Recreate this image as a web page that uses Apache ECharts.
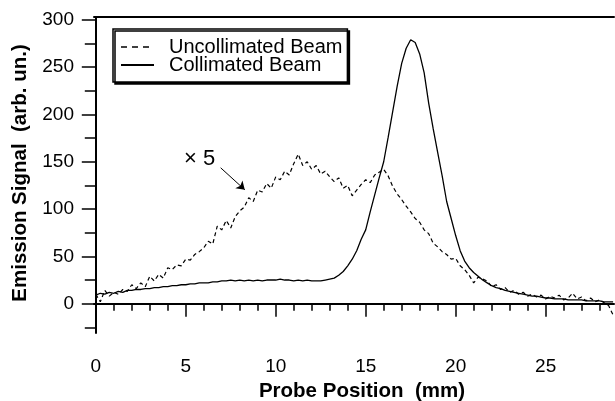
<!DOCTYPE html>
<html>
<head>
<meta charset="utf-8">
<script src="https://cdn.jsdelivr.net/npm/echarts@6/dist/echarts.min.js"></script>
<style>
    html, body { margin: 0; padding: 0; background: #fff; }
    #chart { width: 615px; height: 401px; }
</style>
</head>
<body>
<div id="chart"></div>
<script>
// probe positions (mm)
let positions = [
    0, 0.25, 0.5, 0.75, 1, 1.25, 1.5, 1.75, 2, 2.25, 2.5, 2.75, 3, 3.25, 3.5, 3.75, 4, 4.25, 4.5, 4.75,
    5, 5.25, 5.5, 5.75, 6, 6.25, 6.5, 6.75, 7, 7.25, 7.5, 7.75, 8, 8.25, 8.5, 8.75, 9, 9.25, 9.5, 9.75,
    10, 10.25, 10.5, 10.75, 11, 11.25, 11.5, 11.75, 12, 12.25, 12.5, 12.75, 13, 13.25, 13.5, 13.75, 14, 14.25, 14.5, 14.75,
    15, 15.25, 15.5, 15.75, 16, 16.25, 16.5, 16.75, 17, 17.25, 17.5, 17.75, 18, 18.25, 18.5, 18.75, 19, 19.25, 19.5, 19.75,
    20, 20.25, 20.5, 20.75, 21, 21.25, 21.5, 21.75, 22, 22.25, 22.5, 22.75, 23, 23.25, 23.5, 23.75, 24, 24.25, 24.5, 24.75,
    25, 25.25, 25.5, 25.75, 26, 26.25, 26.5, 26.75, 27, 27.25, 27.5, 27.75, 28, 28.25, 28.5, 28.75
]

// uncollimated beam, already multiplied by 5
let uncollimated = [
    10, 2, 14, 8, 12, 10, 15, 13, 20, 16, 22, 18, 29, 24, 31, 27, 38, 36, 41, 40,
    47, 46, 52, 55, 59, 66, 63, 82, 78, 88, 80, 92, 98, 102, 112, 108, 120, 118, 127, 122,
    134, 131, 140, 136, 148, 158, 146, 150, 142, 146, 137, 140, 134, 129, 133, 122, 125, 114, 120, 126,
    131, 128, 136, 139, 142, 135, 124, 116, 110, 103, 97, 90, 86, 78, 74, 64, 60, 55, 52, 47,
    48, 40, 36, 30, 22, 28, 26, 24, 18, 20, 15, 17, 12, 14, 10, 12, 8, 10, 7, 9,
    5, 8, 6, 9, 4, 6, 11, 5, 7, 3, 6, 2, 4, 1, -2, -12
]

let collimated = [
    9, 11, 10, 12, 11, 13, 12, 14, 14, 15, 15, 16, 16, 17, 17, 18, 18, 19, 19, 20,
    20, 21, 21, 22, 22, 22, 23, 23, 24, 24, 25, 24, 25, 24, 25, 24, 25, 24, 25, 25,
    25, 26, 25, 25, 24, 25, 24, 25, 24, 24, 24, 25, 26, 27, 30, 34, 40, 47, 56, 68,
    78, 97, 115, 133, 150, 176, 203, 230, 254, 270, 279, 276, 264, 244, 212, 185, 160, 135, 108, 90,
    72, 56, 45, 38, 33, 29, 25, 22, 19, 17, 16, 14, 13, 12, 11, 10, 9, 8, 8, 7,
    6, 6, 5, 5, 5, 4, 4, 4, 4, 3, 3, 3, 3, 2, 2, 2
]

let xMajor = [0, 5, 10, 15, 20, 25]
let xMinor = [1, 2, 3, 4, 6, 7, 8, 9, 11, 12, 13, 14, 16, 17, 18, 19, 21, 22, 23, 24, 26, 27, 28]
let yMajor = [0, 50, 100, 150, 200, 250, 300]
let yMinor = [-25, 25, 75, 125, 175, 225, 275]

let font = "'Liberation Sans', Arial, Helvetica, sans-serif"
let xMin = -0.1, xMax = 28.8
let yMin = -31, yMax = 303

function pairs(values) {
    return positions.map(function (p, i) {
        return [p, values[i]]
    })
}

let myChart = echarts.init(document.getElementById('chart'))

let option = {
    animation: false,
    backgroundColor: '#fff',
    grid: {left: 94, right: 1, top: 17, bottom: 68},
    legend: {
        left: 113,
        top: 29,
        orient: 'vertical',
        itemWidth: 33,
        itemHeight: 10,
        itemGap: -2,
        padding: [8, 5, 7, 7],
        backgroundColor: '#fff',
        borderColor: '#000',
        borderWidth: 1.5,
        borderRadius: 0,
        shadowColor: '#000',
        shadowBlur: 0,
        shadowOffsetX: 2,
        shadowOffsetY: 2,
        itemStyle: {opacity: 0},
        textStyle: {
            color: '#000',
            fontFamily: font,
            fontSize: 20,
            padding: [0, 0, 0, 10]
        },
        data: [
            {name: 'Uncollimated Beam', lineStyle: {type: [6, 5], width: 1.6, color: '#000'}},
            {name: 'Collimated Beam'}
        ]
    },
    xAxis: [
        {
            type: 'value', min: xMin, max: xMax, position: 'bottom',
            axisLine: {lineStyle: {color: '#000', width: 2}},
            axisTick: {customValues: xMajor, length: 13, lineStyle: {color: '#000', width: 1.5}},
            axisLabel: {customValues: xMajor, margin: 24, color: '#000', fontSize: 19, fontFamily: font},
            splitLine: {show: false}
        },
        {
            type: 'value', min: xMin, max: xMax, position: 'bottom',
            axisLine: {show: false},
            axisTick: {customValues: xMinor, length: 7, lineStyle: {color: '#000', width: 1.5}},
            axisLabel: {show: false},
            splitLine: {show: false}
        },
        {
            type: 'value', min: xMin, max: xMax, position: 'top',
            axisLine: {lineStyle: {color: '#000', width: 2}},
            axisTick: {show: false},
            axisLabel: {show: false},
            splitLine: {show: false}
        }
    ],
    yAxis: [
        {
            type: 'value', min: yMin, max: yMax, position: 'left',
            axisLine: {show: true, lineStyle: {color: '#000', width: 2}},
            axisTick: {show: true, customValues: yMajor, length: 14, lineStyle: {color: '#000', width: 1.5}},
            axisLabel: {customValues: yMajor, margin: 20, color: '#000', fontSize: 19, fontFamily: font},
            splitLine: {show: false}
        },
        {
            type: 'value', min: yMin, max: yMax, position: 'left',
            axisLine: {show: false},
            axisTick: {show: true, customValues: yMinor, length: 11, lineStyle: {color: '#000', width: 1.5}},
            axisLabel: {show: false},
            splitLine: {show: false}
        }
    ],
    series: [
        {
            name: 'Uncollimated Beam',
            type: 'line',
            symbol: 'none',
            data: pairs(uncollimated),
            lineStyle: {color: '#000', width: 1.2, type: [4, 3]},
            itemStyle: {color: '#000'},
            markLine: {
                silent: true,
                symbol: ['none', 'arrow'],
                symbolSize: 8,
                label: {show: false},
                lineStyle: {color: '#000', width: 1, type: 'solid'},
                data: [[{coord: [6.94, 143.6]}, {coord: [8.28, 120.4]}]]
            }
        },
        {
            name: 'Collimated Beam',
            type: 'line',
            symbol: 'none',
            data: pairs(collimated),
            lineStyle: {color: '#000', width: 1.3},
            itemStyle: {color: '#000'}
        }
    ],
    graphic: [
        {
            type: 'text', x: 362, y: 391,
            style: {text: 'Probe Position  (mm)', align: 'center', verticalAlign: 'middle',
                fontSize: 20.5, fontWeight: 'bold', fontFamily: font, fill: '#000'}
        },
        {
            type: 'text', x: 20, y: 173, rotation: Math.PI / 2,
            style: {text: 'Emission Signal  (arb. un.)', align: 'center', verticalAlign: 'middle',
                fontSize: 20.5, fontWeight: 'bold', fontFamily: font, fill: '#000'}
        },
        {
            type: 'text', x: 184, y: 159,
            style: {text: '× 5', align: 'left', verticalAlign: 'middle',
                fontSize: 22, fontFamily: font, fill: '#000'}
        }
    ]
}

myChart.setOption(option)
</script>
</body>
</html>
